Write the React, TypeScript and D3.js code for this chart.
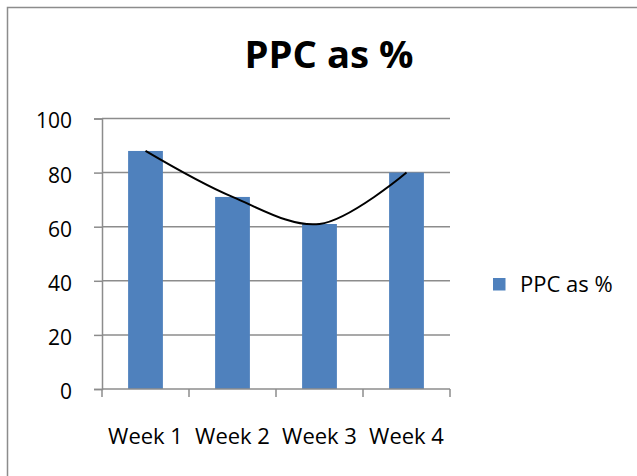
import React, { useEffect, useRef } from "react";
import * as d3 from "d3";

const weeks = ["Week 1", "Week 2", "Week 3", "Week 4"];
const ppc = [88, 71, 61, 80];
const yTicks = [0, 20, 40, 60, 80, 100];
const seriesName = "PPC as %";
const title = "PPC as %";

const W = 637;
const H = 476;
const font = "'Open Sans', 'Liberation Sans', sans-serif";

export default function App() {
  const ref = useRef<SVGSVGElement | null>(null);

  useEffect(() => {
    const svg = d3.select(ref.current);
    svg.selectAll("*").remove();

    const x = d3.scaleBand<string>().domain(weeks).range([102, 450]).paddingInner(0.6).paddingOuter(0.3);
    const cat = d3.scaleBand<string>().domain(weeks).range([102, 450]).padding(0); // for ticks
    const y = d3.scaleLinear().domain([0, 100]).range([389, 118.5]);

    // chart border (cut off at right and bottom like the source)
    svg.append("rect")
      .attr("x", 7.5).attr("y", 7.5)
      .attr("width", W).attr("height", H)
      .attr("fill", "#fff").attr("stroke", "#8c8c8c").attr("stroke-width", 1.5);

    // title
    svg.append("text")
      .attr("x", 329).attr("y", 68)
      .attr("text-anchor", "middle")
      .attr("font-family", font).attr("font-weight", "bold").attr("font-size", 37)
      .attr("textLength", 169).attr("lengthAdjust", "spacingAndGlyphs")
      .attr("fill", "#000")
      .text(title);

    // gridlines
    svg.append("g").selectAll("line").data(yTicks.filter((t) => t > 0)).join("line")
      .attr("x1", 102).attr("x2", 450)
      .attr("y1", (d) => y(d)).attr("y2", (d) => y(d))
      .attr("stroke", "#8c8c8c").attr("stroke-width", 1.5);

    // y axis
    const ya = svg.append("g").attr("transform", "translate(102,0)")
      .call(d3.axisLeft(y).tickValues(yTicks).tickSize(8).tickPadding(22));
    ya.select(".domain").attr("stroke", "#8c8c8c").attr("stroke-width", 1.5);
    ya.selectAll(".tick line").attr("stroke", "#8c8c8c").attr("stroke-width", 1.5);
    ya.selectAll(".tick text")
      .attr("font-family", font).attr("font-size", 21).attr("fill", "#000").attr("dy", "0.45em");

    // bars
    svg.append("g").selectAll("rect").data(ppc).join("rect")
      .attr("x", (_, i) => x(weeks[i]) as number)
      .attr("width", x.bandwidth())
      .attr("y", (d) => y(d))
      .attr("height", (d) => y(0) - y(d))
      .attr("fill", "#4F81BD");

    // x axis
    const xa = svg.append("g").attr("transform", "translate(0,389)");
    xa.append("line").attr("x1", 102).attr("x2", 450)
      .attr("stroke", "#8c8c8c").attr("stroke-width", 1.5);
    const edges = [...weeks.map((w) => cat(w) as number), 450];
    xa.selectAll("line.tk").data(edges).join("line").attr("class", "tk")
      .attr("x1", (d) => d).attr("x2", (d) => d).attr("y1", 0).attr("y2", 8)
      .attr("stroke", "#8c8c8c").attr("stroke-width", 1.5);
    xa.selectAll("text").data(weeks).join("text")
      .attr("x", (d) => (cat(d) as number) + cat.bandwidth() / 2)
      .attr("y", 55)
      .attr("text-anchor", "middle")
      .attr("font-family", font).attr("font-size", 22).attr("fill", "#000")
      .text((d) => d);

    // smoothed trend curve through bar tops
    const line = d3.line<number>()
      .x((_, i) => (x(weeks[i]) as number) + x.bandwidth() / 2)
      .y((d) => y(d))
      .curve(d3.curveCatmullRom.alpha(0.5));
    svg.append("path").datum(ppc)
      .attr("d", line)
      .attr("fill", "none").attr("stroke", "#000").attr("stroke-width", 2);

    // legend
    const lg = svg.append("g");
    lg.append("rect").attr("x", 493).attr("y", 278).attr("width", 12.5).attr("height", 12.5).attr("fill", "#4F81BD");
    lg.append("text").attr("x", 520).attr("y", 292)
      .attr("font-family", font).attr("font-size", 22).attr("fill", "#000")
      .text(seriesName);
  }, []);

  return (
    <svg
      ref={ref}
      width={W}
      height={H}
      style={{ position: "absolute", left: 0, top: 0, background: "#fff" }}
    />
  );
}
